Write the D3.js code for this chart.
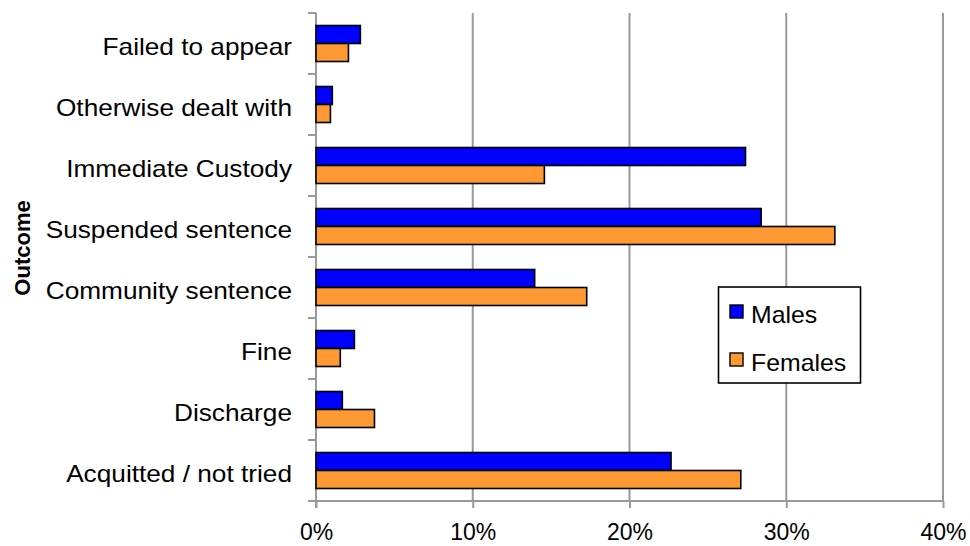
<!DOCTYPE html>
<html>
<head>
<meta charset="utf-8">
<script src="https://cdn.jsdelivr.net/npm/d3@7"></script>
<style>
  body { margin: 0; background: #fff; }
  svg { display: block; }
  text { font-family: "Liberation Sans", Arial, sans-serif; fill: #000; }
</style>
</head>
<body>
<svg id="chart" width="970" height="546"></svg>
<script>
const categories = ["Failed to appear", "Otherwise dealt with", "Immediate Custody", "Suspended sentence",
                    "Community sentence", "Fine", "Discharge", "Acquitted / not tried"];
const seriesNames = ["Males", "Females"];
const males   = [2.83, 1.04, 27.4, 28.4, 13.95, 2.45, 1.68, 22.65];
const females = [2.07, 0.92, 14.57, 33.1, 17.27, 1.55, 3.73, 27.1];
const xTicks = [0, 10, 20, 30, 40];
const colors = ["#0000FF", "#FF9933"];
const axisTitle = "Outcome";

const data = categories.map((c, i) => ({ cat: c, values: [males[i], females[i]] }));

const svg = d3.select("#chart");
const pLeft = 316, pRight = 943, pTop = 13, pBottom = 501;

const x = d3.scaleLinear().domain([0, 40]).range([pLeft, pRight]);
const y = d3.scaleBand().domain(categories).range([pTop, pBottom]).paddingInner(0.41).paddingOuter(0.205);
const ySub = d3.scaleBand().domain(seriesNames).range([0, y.bandwidth()]);

// gridlines
svg.append("g").selectAll("line").data(xTicks.slice(1)).join("line")
  .attr("x1", d => x(d)).attr("x2", d => x(d))
  .attr("y1", pTop).attr("y2", pBottom)
  .attr("stroke", "#999").attr("stroke-width", 2);

// x axis
const xAxis = d3.axisBottom(x).tickValues(xTicks).tickFormat(d => d + "%").tickSize(7).tickPadding(16);
const gx = svg.append("g").attr("transform", `translate(0,${pBottom})`).call(xAxis);
gx.select(".domain").attr("stroke", "#999").attr("stroke-width", 2).attr("d", `M${pLeft - 8},0H${pRight}`);
gx.selectAll(".tick line").attr("stroke", "#999").attr("stroke-width", 2);
gx.selectAll(".tick text").attr("font-size", 23).attr("font-family", "Liberation Sans, Arial, sans-serif").attr("fill", "#000");

// y axis line and ticks at band boundaries
const step = y.step();
const boundaries = d3.range(categories.length + 1).map(i => pTop + i * step);
svg.append("line").attr("x1", pLeft).attr("x2", pLeft).attr("y1", pTop).attr("y2", pBottom + 7)
  .attr("stroke", "#999").attr("stroke-width", 2);
svg.append("g").selectAll("line").data(boundaries).join("line")
  .attr("x1", pLeft - 8).attr("x2", pLeft).attr("y1", d => d).attr("y2", d => d)
  .attr("stroke", "#999").attr("stroke-width", 2);

// category labels
svg.append("g").selectAll("g").data(categories).join("g")
  .attr("transform", d => `translate(292,${y(d) + y.bandwidth() / 2 + 11}) scale(1.14,1)`)
  .append("text").attr("text-anchor", "end").attr("font-size", 23).text(d => d);

// bars
const groups = svg.append("g").selectAll("g").data(data).join("g")
  .attr("transform", d => `translate(0,${y(d.cat)})`);
groups.selectAll("rect").data(d => d.values.map((v, i) => ({ v, s: seriesNames[i], i }))).join("rect")
  .attr("x", x(0))
  .attr("y", d => ySub(d.s))
  .attr("width", d => x(d.v) - x(0))
  .attr("height", ySub.bandwidth())
  .attr("fill", d => colors[d.i])
  .attr("stroke", "#000").attr("stroke-width", 1.6);

// axis title
svg.append("text").attr("transform", "translate(30,248) rotate(-90)")
  .attr("text-anchor", "middle").attr("font-size", 22).attr("font-weight", "bold").text(axisTitle);

// legend
const lg = svg.append("g");
lg.append("rect").attr("x", 718.5).attr("y", 287).attr("width", 142).attr("height", 96)
  .attr("fill", "#fff").attr("stroke", "#000").attr("stroke-width", 1.6);
const items = lg.selectAll("g").data(seriesNames).join("g")
  .attr("transform", (d, i) => `translate(730,${305 + i * 48})`);
items.append("rect").attr("width", 13).attr("height", 13)
  .attr("fill", (d, i) => colors[i]).attr("stroke", "#000").attr("stroke-width", 1.4);
items.append("g").attr("transform", "translate(21,17.5) scale(1.08,1)")
  .append("text").attr("font-size", 23).text(d => d);
</script>
</body>
</html>
